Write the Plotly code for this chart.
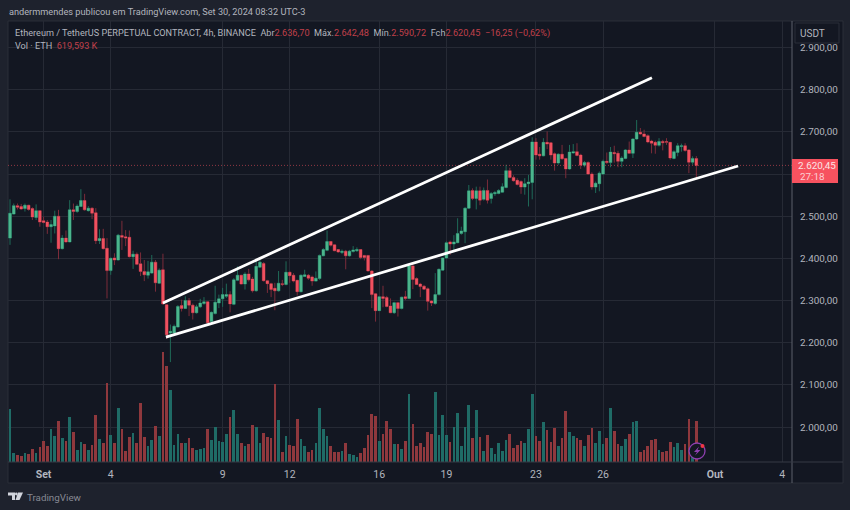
import plotly.graph_objects as go

# ---------- data ----------
opens = [2448,2505,2525,2523,2518,2526,2518,2497,2513,2489,2486,2475,2477,2500,2423,2448,2439,2515,2511,2523,
         2537,2513,2519,2508,2442,2447,2424,2371,2401,2396,2454,2451,2450,2404,2410,2387,2369,2360,2365,2391,
         2341,2373,2290,2223,2223,2237,2288,2281,2300,2289,2271,2285,2293,2297,2250,2269,2294,2304,2310,2314,
         2291,2348,2360,2339,2363,2351,2323,2379,2388,2347,2340,2329,2323,2340,2338,2367,2360,2348,2321,2357,
         2360,2356,2346,2352,2406,2419,2440,2432,2421,2414,2417,2406,2416,2418,2421,2407,2407,2370,2316,2276,
         2309,2307,2287,2271,2295,2281,2309,2305,2382,2352,2339,2334,2328,2299,2293,2314,2372,2401,2439,2434,
         2437,2459,2463,2519,2561,2542,2560,2540,2561,2542,2553,2554,2557,2568,2608,2592,2585,2582,2569,2577,
         2580,2676,2647,2643,2675,2674,2648,2626,2647,2637,2612,2650,2653,2645,2621,2627,2600,2569,2577,2600,
         2630,2627,2651,2649,2630,2637,2657,2649,2683,2699,2695,2691,2678,2675,2668,2677,2677,2675,2637,2651,
         2665,2667,2657,2628,2636.70]
highs = [2540,2530,2530,2529,2530,2527,2521,2528,2513,2499,2491,2491,2513,2515,2455,2466,2538,2530,2528,2564,
         2553,2524,2521,2519,2469,2470,2448,2402,2412,2458,2489,2467,2466,2418,2414,2414,2396,2394,2408,2396,
         2376,2411,2292,2243,2243,2289,2302,2310,2306,2293,2290,2304,2308,2298,2274,2335,2314,2330,2340,2322,
         2353,2381,2361,2367,2375,2356,2393,2398,2391,2349,2342,2342,2370,2349,2393,2369,2365,2349,2362,2373,
         2363,2359,2369,2409,2424,2466,2440,2433,2422,2421,2420,2420,2429,2426,2421,2408,2408,2372,2317,2311,
         2335,2311,2305,2297,2297,2309,2323,2384,2387,2355,2342,2337,2331,2301,2365,2376,2402,2440,2442,2455,
         2495,2475,2521,2574,2566,2570,2570,2568,2587,2557,2560,2564,2578,2622,2615,2597,2590,2585,2590,2598,
         2687,2685,2664,2685,2701,2675,2651,2649,2669,2638,2669,2671,2673,2648,2631,2630,2604,2582,2606,2634,
         2651,2664,2667,2655,2642,2659,2677,2685,2728,2709,2705,2694,2681,2679,2685,2681,2685,2676,2656,2673,
         2672,2673,2659,2642,2642.48]
lows = [2432,2504,2516,2515,2511,2513,2491,2491,2475,2483,2458,2437,2459,2398,2421,2437,2438,2491,2508,2522,
        2513,2511,2493,2434,2434,2421,2305,2361,2384,2395,2420,2429,2402,2375,2384,2358,2346,2352,2363,2321,
        2339,2290,2209,2154,2221,2236,2274,2280,2263,2255,2269,2282,2290,2245,2245,2267,2282,2285,2306,2272,
        2289,2346,2338,2326,2345,2319,2321,2378,2345,2318,2308,2277,2321,2334,2336,2342,2343,2312,2319,2356,
        2349,2335,2345,2349,2405,2417,2428,2417,2413,2410,2374,2404,2414,2415,2398,2395,2369,2282,2250,2275,
        2284,2284,2270,2268,2262,2279,2301,2303,2327,2337,2308,2325,2276,2287,2290,2312,2371,2399,2408,2420,
        2436,2456,2436,2517,2538,2516,2526,2537,2530,2530,2548,2552,2556,2566,2590,2582,2573,2553,2551,2523,
        2540,2634,2634,2642,2659,2634,2608,2622,2634,2590,2610,2648,2642,2612,2616,2598,2563,2555,2559,2598,
        2624,2616,2627,2616,2616,2635,2648,2638,2681,2693,2687,2673,2649,2648,2665,2656,2669,2634,2635,2642,
        2653,2653,2602,2622,2590.72]
closes = [2507,2525,2521,2517,2526,2516,2498,2513,2486,2485,2475,2480,2500,2423,2448,2439,2515,2511,2524,2537,
          2515,2519,2507,2442,2447,2423,2371,2400,2396,2455,2450,2448,2404,2410,2386,2369,2361,2368,2391,2342,
          2372,2292,2219,2227,2239,2286,2281,2300,2289,2271,2285,2294,2297,2247,2272,2296,2304,2314,2314,2292,
          2349,2360,2339,2363,2349,2323,2381,2391,2347,2340,2326,2323,2341,2338,2367,2359,2346,2321,2360,2361,
          2353,2346,2353,2407,2421,2440,2431,2418,2415,2417,2406,2417,2420,2421,2402,2402,2370,2314,2276,2309,
          2305,2286,2271,2295,2281,2308,2305,2382,2350,2338,2333,2327,2298,2294,2314,2374,2401,2437,2434,2439,
          2459,2465,2519,2560,2542,2560,2538,2561,2538,2554,2556,2561,2570,2608,2592,2584,2575,2569,2577,2581,
          2676,2645,2643,2675,2671,2645,2626,2647,2636,2612,2652,2653,2644,2621,2627,2600,2569,2578,2602,2630,
          2627,2652,2648,2630,2638,2657,2649,2683,2699,2695,2689,2676,2673,2668,2677,2674,2675,2638,2653,2667,
          2667,2656,2628,2637,2620.45]
volumes_k = [806,143,107,87,143,128,204,133,235,326,250,510,393,632,367,316,694,454,179,301,
             275,179,255,724,352,286,1209,408,296,831,500,163,377,444,286,908,377,240,342,556,
             398,1683,1469,1097,260,434,286,296,367,209,184,199,219,500,332,541,316,306,434,689,
             791,434,286,250,270,561,530,286,444,377,362,1199,638,148,403,260,250,658,352,250,
             148,184,296,831,500,403,240,153,153,163,296,117,102,82,133,209,418,740,704,316,
             434,632,500,270,270,204,326,1035,576,240,286,230,464,423,1071,408,724,418,306,530,
             755,250,530,867,362,791,377,163,418,209,128,296,163,332,423,209,255,326,296,500,
             1035,403,316,612,495,306,515,240,372,780,454,398,372,342,250,408,520,286,474,275,
             372,821,474,270,250,347,423,612,632,153,179,240,337,347,189,153,163,301,230,291,
             184,281,663,230,620]
candle_index = list(range(len(opens)))

upper_line_x = [41.0, 172.1]
upper_line_y = [2294, 2828]
lower_line_x = [41.8, 195.2]
lower_line_y = [2213, 2619]

date_ticks_x = [9, 27, 57, 75, 99, 117, 141, 159, 189, 207]
date_labels = ["<b>Set</b>", "4", "9", "12", "16", "19", "23", "26", "<b>Out</b>", "4"]
price_ticks = [2900, 2800, 2700, 2600, 2500, 2400, 2300, 2200, 2100, 2000]
price_labels = ["2.900,00", "2.800,00", "2.700,00", "", "2.500,00", "2.400,00", "2.300,00", "2.200,00", "2.100,00", "2.000,00"]
last_price = 2620.45

# ---------- style ----------
W, H = 850, 510
L, R, T, B = 8, 792, 21, 462
BG, PANEL, GRID = "#1e222d", "#131722", "#262a35"
UP, DOWN = "#4bb58c", "#f0505f"
UP_WICK, DOWN_WICK = "#1f6a58", "#7c2c3a"
VOL_UP, VOL_DOWN = "#1f6b66", "#8f383d"
TEXT = "#b2b5be"
FONT = "Roboto"

px_x = lambda p: (p - L) / (R - L)
px_y = lambda p: (B - p) / (B - T)

fig = go.Figure()

fig.add_trace(go.Bar(x=candle_index, y=volumes_k, yaxis="y2", width=0.72,
                     marker=dict(color=[VOL_UP if c >= o else VOL_DOWN for o, c in zip(opens, closes)], line_width=0),
                     showlegend=False, hoverinfo="skip"))

# wicks
fig.add_trace(go.Candlestick(x=candle_index, open=opens, high=highs, low=lows, close=closes,
                             increasing=dict(line=dict(color=UP_WICK, width=1), fillcolor=UP_WICK),
                             decreasing=dict(line=dict(color=DOWN_WICK, width=1), fillcolor=DOWN_WICK),
                             showlegend=False, hoverinfo="skip"))
# bodies
body_top = [max(o, c) for o, c in zip(opens, closes)]
body_bot = [min(o, c) for o, c in zip(opens, closes)]
fig.add_trace(go.Candlestick(x=candle_index, open=opens, close=closes, high=body_top, low=body_bot,
                             increasing=dict(line=dict(color=UP, width=0), fillcolor=UP),
                             decreasing=dict(line=dict(color=DOWN, width=0), fillcolor=DOWN),
                             showlegend=False, hoverinfo="skip"))

fig.add_trace(go.Scatter(x=[-0.54, 209.65], y=[last_price, last_price], mode="lines",
                         line=dict(color="#f7525f", width=1, dash="1px 2px"), opacity=0.55,
                         showlegend=False, hoverinfo="skip"))

for xs, ys in ((upper_line_x, upper_line_y), (lower_line_x, lower_line_y)):
    fig.add_trace(go.Scatter(x=xs, y=ys, mode="lines", line=dict(color="#ffffff", width=2.8),
                             showlegend=False, hoverinfo="skip"))

shapes = [
    dict(type="rect", xref="paper", yref="paper", x0=px_x(8), x1=px_x(843), y0=px_y(483), y1=px_y(21),
         fillcolor=PANEL, line=dict(color="#2a2e39", width=1), layer="below"),
    dict(type="line", xref="paper", yref="paper", x0=px_x(792), x1=px_x(792), y0=px_y(483), y1=px_y(21),
         line=dict(color="#5d606b", width=1), layer="above"),
    dict(type="line", xref="paper", yref="paper", x0=px_x(8), x1=px_x(843), y0=px_y(462), y1=px_y(462),
         line=dict(color="#363a45", width=1), layer="above"),
    # price label
    dict(type="rect", xref="paper", yref="paper", x0=px_x(792), x1=px_x(838), y0=px_y(183), y1=px_y(159),
         fillcolor="#f7525f", line=dict(width=0), layer="above"),
    # USDT button
    dict(type="rect", xref="paper", yref="paper", x0=px_x(795), x1=px_x(839), y0=px_y(43), y1=px_y(23),
         fillcolor=PANEL, line=dict(color="#2a2e39", width=1), layer="above"),
    # news icon
    dict(type="circle", xref="paper", yref="paper", x0=px_x(689), x1=px_x(705), y0=px_y(459), y1=px_y(443),
         fillcolor=PANEL, line=dict(color="#8e3fb0", width=1.3), layer="above"),
    dict(type="path", xref="paper", yref="paper",
         path=f"M {px_x(699)} {px_y(446.5)} L {px_x(694)} {px_y(452)} L {px_x(697)} {px_y(452)} L {px_x(695)} {px_y(455.5)} L {px_x(700.5)} {px_y(450)} L {px_x(697.5)} {px_y(450)} Z",
         fillcolor="#8e3fb0", line=dict(width=0), layer="above"),
    dict(type="circle", xref="paper", yref="paper", x0=px_x(700.5), x1=px_x(704.5), y0=px_y(448), y1=px_y(444),
         fillcolor="#f23645", line=dict(width=0), layer="above"),
    # TradingView logo
    dict(type="path", xref="paper", yref="paper",
         path=f"M {px_x(8)} {px_y(492.5)} L {px_x(15)} {px_y(492.5)} L {px_x(15)} {px_y(500)} L {px_x(12)} {px_y(500)} L {px_x(12)} {px_y(495.5)} L {px_x(8)} {px_y(495.5)} Z",
         fillcolor="#d1d4dc", line=dict(width=0), layer="above"),
    dict(type="path", xref="paper", yref="paper",
         path=f"M {px_x(18)} {px_y(492.5)} L {px_x(23)} {px_y(492.5)} L {px_x(19.5)} {px_y(500)} L {px_x(15.5)} {px_y(500)} Z",
         fillcolor="#d1d4dc", line=dict(width=0), layer="above"),
    dict(type="circle", xref="paper", yref="paper", x0=px_x(15), x1=px_x(17.6), y0=px_y(495.4), y1=px_y(492.6),
         fillcolor="#d1d4dc", line=dict(width=0), layer="above"),
]

def note(px, py, text, size=10.5, color=TEXT, xanchor="left"):
    return dict(x=px_x(px), y=px_y(py), xref="paper", yref="paper", text=text, showarrow=False,
                xanchor=xanchor, yanchor="middle", align="left", borderpad=0,
                font=dict(family=FONT, size=size, color=color))

RED = "#c0404a"
def red(s):
    return f'<span style="color:{RED}">{s}</span>'

annotations = [
    note(8, 12, "andermmendes publicou em TradingView.com, Set 30, 2024 08:32 UTC-3", 9.2),
    note(14, 33, "Ethereum / TetherUS PERPETUAL CONTRACT, 4h, BINANCE&#160;&#160;Abr" + red("2.636,70")
         + "&#160;&#160;Máx." + red("2.642,48") + "&#160;&#160;Mín." + red("2.590,72")
         + "&#160;&#160;Fch" + red("2.620,45") + "&#160;&#160;" + red("−16,25 (−0,62%)"), 9.15),
    note(14, 46, "Vol · ETH&#160;&#160;" + red("619,593 K"), 9.15),
    note(812.5, 33, "USDT", 10, TEXT, "center"),
    note(817, 165, "2.620,45", 9.9, "#fbe3e5", "center"),
    note(799, 177, "27:18", 9.9, "#fbd0d4"),
    note(26, 497, "TradingView", 9.8, "#868993"),
]

fig.update_layout(
    width=W, height=H, autosize=False,
    margin=dict(l=L, r=W - R, t=T, b=H - B, pad=0),
    paper_bgcolor=BG, plot_bgcolor=PANEL,
    bargap=0, boxgap=0.28, boxgroupgap=0,
    shapes=shapes, annotations=annotations, showlegend=False,
    font=dict(family=FONT, color=TEXT),
    xaxis=dict(range=[-0.54, 209.65], tickmode="array", tickvals=date_ticks_x, ticktext=date_labels,
               rangeslider=dict(visible=False), showgrid=True, gridcolor=GRID, gridwidth=1, zeroline=False,
               showline=False, ticks="", tickfont=dict(family=FONT, size=10.5, color=TEXT), ticklabelstandoff=4),
    yaxis=dict(range=[1917.1, 2962.8], side="right", tickmode="array", tickvals=price_ticks, ticktext=price_labels,
               showgrid=True, gridcolor=GRID, gridwidth=1, zeroline=False, showline=False, ticks="",
               tickfont=dict(family=FONT, size=9.9, color=TEXT), ticklabelstandoff=7),
    yaxis2=dict(range=[0, 6747], overlaying="y", side="left", visible=False, showgrid=False),
)

fig.write_html("out.html", config={"displayModeBar": False}, post_script="document.body.style.margin='0';")
